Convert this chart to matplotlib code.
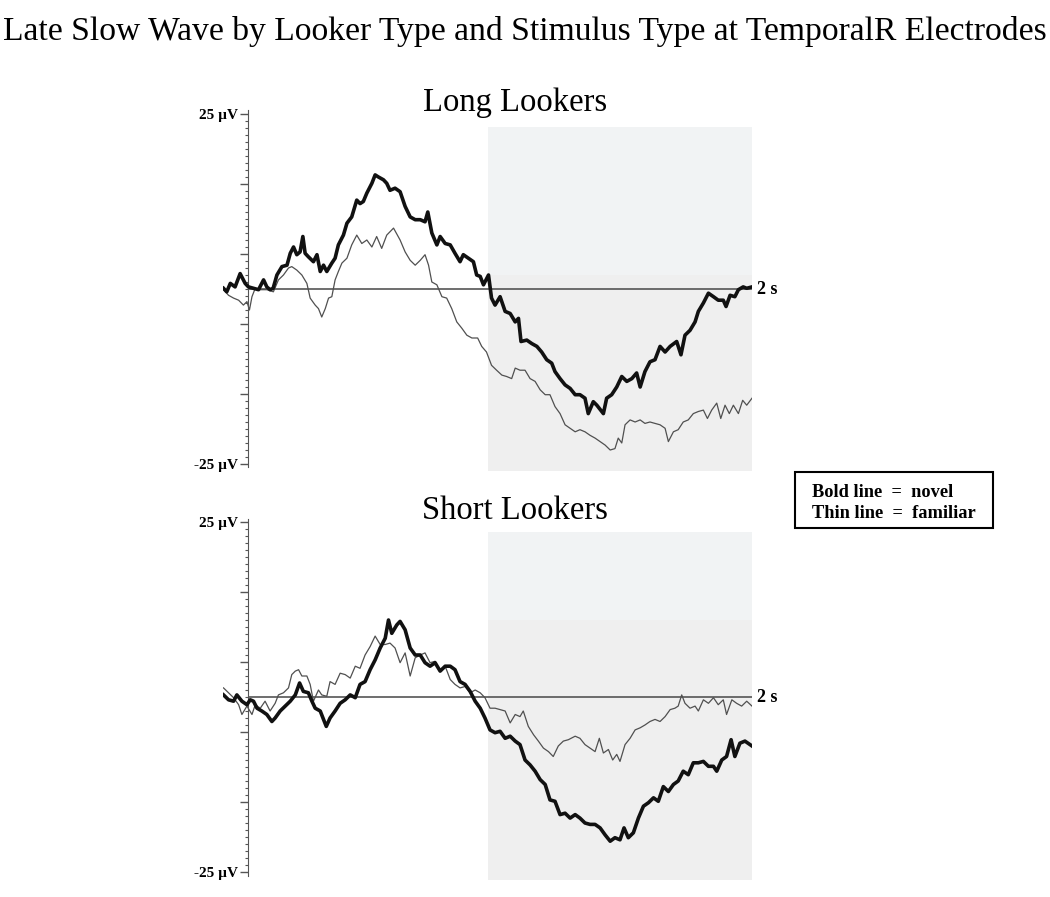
import matplotlib.pyplot as plt
from matplotlib.patches import Rectangle

plt.rcParams['font.family'] = ['Liberation Serif', 'DejaVu Serif']

# time in ms, amplitude in microvolts
long_novel_t = [-98, -85, -71, -52, -32, -12, 1, 21, 41, 61, 74, 87, 99, 114, 134, 154, 167, 180, 193, 206,
                217, 226, 239, 259, 273, 286, 299, 312, 332, 345, 358, 378, 392, 411, 431, 444, 457, 471, 491, 504,
                517, 537, 550, 563, 583, 603, 623, 643, 663, 683, 702, 713, 729, 749, 762, 782, 802, 821, 841, 854,
                874, 894, 907, 921, 934, 954, 966, 980, 1000, 1020, 1040, 1060, 1073, 1083, 1106, 1126, 1146, 1165,
                1185, 1205, 1218, 1238, 1258, 1278, 1298, 1317, 1337, 1350, 1370, 1384, 1410, 1423, 1443, 1463,
                1483, 1503, 1523, 1542, 1556, 1575, 1595, 1615, 1635, 1655, 1675, 1701, 1718, 1734, 1754, 1774,
                1787, 1807, 1827, 1847, 1866, 1886, 1897, 1913, 1932, 1946, 1965, 1979, 2000]
long_novel_v = [0.1, -0.4, 0.8, 0.3, 2.2, 0.8, 0.3, 0.1, -0.1, 1.3, 0.3, -0.1, 0.1, 2.0, 3.2, 3.4, 5.1, 6.0, 4.9, 5.3,
                7.5, 5.1, 4.6, 3.9, 4.9, 2.5, 3.4, 2.5, 3.7, 4.4, 6.3, 7.7, 9.4, 10.3, 12.7, 12.2, 12.5, 13.7, 15.1, 16.3,
                16.0, 15.6, 15.1, 14.1, 14.4, 13.9, 11.8, 10.3, 9.9, 9.9, 9.6, 11.0, 8.0, 6.3, 7.5, 6.5, 6.3, 5.1, 3.9, 4.9,
                4.4, 3.9, 2.0, 1.8, 0.6, 2.0, -1.3, -2.3, -1.1, -3.2, -3.5, -4.7, -4.2, -7.5, -7.3, -7.8, -8.2, -9.0,
                -10.1, -10.6, -11.8, -12.8, -13.7, -14.2, -15.1, -15.1, -15.6, -17.8, -16.1, -16.6, -17.8, -15.6, -15.1, -14.0,
                -12.5, -13.2, -12.8, -12.0, -14.0, -11.8, -10.4, -10.1, -8.2, -9.0, -8.2, -7.5, -9.4, -6.6, -5.9, -4.7,
                -3.2, -2.0, -0.6, -1.1, -1.6, -1.6, -2.5, -0.9, -1.1, -0.1, 0.3, 0.1, 0.3]

long_fam_t = [-98, -78, -58, -38, -19, -5, 5, 15, 28, 48, 74, 100, 120, 140, 160, 173, 193, 213, 233, 246,
              266, 279, 292, 306, 319, 332, 345, 358, 372, 392, 411, 431, 451, 471, 491, 510, 530, 550, 577, 603,
              623, 643, 663, 683, 702, 716, 729, 749, 769, 788, 808, 828, 848, 868, 888, 911, 927, 946, 966, 986,
              1007, 1026, 1046, 1060, 1079, 1099, 1119, 1139, 1159, 1179, 1198, 1218, 1238, 1258, 1278, 1298,
              1317, 1337, 1357, 1377, 1397, 1417, 1437, 1456, 1469, 1483, 1496, 1516, 1536, 1556, 1575, 1595,
              1615, 1635, 1655, 1668, 1688, 1707, 1727, 1747, 1767, 1787, 1807, 1823, 1840, 1860, 1876, 1893,
              1910, 1926, 1946, 1963, 1979, 2000]
long_fam_v = [-0.1, -0.9, -1.3, -1.6, -2.3, -1.8, -3.0, -1.1, 0.1, -0.1, -0.1, -0.4, 1.3, 2.0, 3.0, 3.2, 2.7, 2.0, 0.8, -1.3,
              -2.3, -2.8, -4.0, -2.8, -1.3, -1.1, 1.3, 2.5, 3.7, 4.4, 6.3, 7.7, 6.5, 7.0, 6.0, 7.5, 5.8, 7.7, 8.7, 7.0,
              5.3, 4.1, 3.4, 4.1, 4.9, 3.4, 1.0, 0.6, -1.1, -1.3, -2.8, -4.7, -5.6, -6.6, -7.0, -7.0, -8.2, -9.0, -10.9, -11.6,
              -12.3, -12.5, -12.8, -11.3, -11.6, -11.6, -12.8, -13.2, -14.4, -15.1, -15.1, -16.8, -17.8, -19.4, -19.9, -20.4,
              -20.1, -20.4, -20.9, -21.3, -21.8, -22.3, -23.0, -22.8, -21.3, -22.0, -19.4, -18.7, -19.0, -18.7, -19.2, -19.0,
              -19.2, -19.4, -19.9, -21.8, -20.4, -20.1, -19.0, -18.7, -17.8, -17.5, -17.3, -18.5, -17.3, -16.3, -18.5, -16.6,
              -17.8, -16.6, -17.8, -15.9, -16.6, -15.6]

short_novel_t = [-98, -78, -58, -45, -25, -5, 8, 21, 35, 54, 74, 94, 107, 127, 147, 167, 187, 204, 219, 239,
                 253, 266, 286, 299, 310, 325, 345, 365, 385, 405, 425, 444, 464, 484, 504, 524, 544, 557, 570, 590,
                 603, 623, 643, 663, 683, 702, 722, 742, 762, 782, 802, 821, 841, 861, 881, 901, 921, 940, 960, 980,
                 1000, 1020, 1040, 1060, 1079, 1099, 1119, 1139, 1159, 1179, 1198, 1218, 1238, 1258, 1278, 1298,
                 1317, 1337, 1357, 1377, 1397, 1417, 1437, 1456, 1476, 1492, 1509, 1529, 1549, 1569, 1589, 1609,
                 1628, 1648, 1668, 1688, 1707, 1727, 1747, 1767, 1787, 1807, 1827, 1847, 1860, 1880, 1899, 1917,
                 1932, 1952, 1972, 2000]
short_novel_v = [0.3, -0.4, -0.6, 0.3, -0.6, -1.1, -0.4, -0.6, -1.6, -2.0, -2.5, -3.5, -3.0, -2.0, -1.3, -0.6, 0.3, 2.0, 0.8, 0.6,
                 -0.6, -1.6, -2.0, -3.2, -4.2, -3.0, -2.0, -0.9, -0.4, 0.3, -0.1, 1.8, 2.2, 3.9, 5.3, 7.0, 8.4, 11.0, 9.1, 10.3,
                 10.8, 9.6, 7.0, 6.0, 6.0, 4.9, 4.4, 4.9, 3.7, 4.4, 4.4, 3.9, 2.2, 1.8, 0.8, -0.6, -1.6, -3.0, -4.7, -5.1,
                 -4.9, -5.9, -5.6, -6.3, -6.8, -9.0, -9.7, -10.6, -11.8, -12.5, -14.7, -14.9, -16.8, -16.6, -17.3, -16.8,
                 -17.3, -18.0, -18.2, -18.2, -18.7, -19.7, -20.6, -20.1, -20.4, -18.7, -20.1, -19.4, -17.3, -15.6, -15.1, -14.4,
                 -14.9, -12.8, -13.5, -12.5, -12.0, -10.6, -11.1, -9.4, -9.4, -9.2, -9.9, -9.9, -10.6, -9.0, -8.5, -6.1,
                 -8.5, -6.6, -6.3, -7.0]

short_fam_t = [-98, -78, -58, -38, -25, -5, 15, 28, 48, 67, 87, 107, 120, 140, 160, 173, 187, 200, 213, 233,
               246, 259, 279, 292, 312, 325, 345, 365, 385, 405, 425, 444, 464, 484, 504, 524, 544, 563, 583, 603,
               623, 643, 663, 683, 702, 722, 742, 762, 782, 802, 821, 841, 861, 881, 901, 921, 940, 960, 980, 1000,
               1020, 1040, 1060, 1079, 1092, 1112, 1133, 1152, 1172, 1192, 1211, 1231, 1251, 1271, 1298, 1317,
               1337, 1357, 1377, 1394, 1410, 1430, 1447, 1463, 1476, 1496, 1516, 1536, 1556, 1575, 1595, 1615,
               1635, 1655, 1675, 1694, 1707, 1721, 1734, 1754, 1774, 1787, 1807, 1827, 1847, 1866, 1886, 1899,
               1920, 1939, 1959, 1979, 2000]
short_fam_v = [1.3, 0.6, -0.1, -1.1, -2.5, -1.3, -2.5, -1.1, -1.6, -0.6, -2.0, -0.9, 0.3, 0.6, 1.3, 3.2, 3.7, 3.9, 3.0, 3.0,
               1.8, -0.6, 1.0, 0.3, 0.1, 2.2, 1.8, 3.4, 3.2, 2.7, 4.4, 4.1, 6.0, 7.2, 8.7, 7.5, 7.5, 7.7, 7.0, 4.9,
               6.3, 3.0, 5.6, 6.0, 6.3, 4.9, 5.1, 3.7, 4.4, 2.5, 1.8, 1.3, 1.5, 0.6, 1.0, 0.6, -0.1, -1.6, -1.6, -1.8,
               -2.0, -3.7, -2.5, -2.8, -2.0, -4.2, -5.4, -6.3, -7.3, -7.8, -8.5, -7.0, -6.3, -6.1, -5.6, -5.9,
               -6.8, -7.3, -7.8, -5.9, -8.0, -7.5, -9.0, -8.2, -9.2, -6.8, -5.9, -4.7, -4.4, -4.0, -3.5, -3.2,
               -3.5, -2.8, -1.8, -1.6, -1.3, 0.3, -0.9, -1.6, -1.3, -2.0, -0.4, -0.9, -0.1, -1.1, -0.4, -2.5,
               -0.4, -0.9, -1.3, -0.6, -1.3]

# shaded analysis window (ms) and its bands (µV): bottom, split, top
window_ms = [950, 2000]
long_band = [-26.0, 2.0, 23.1]
short_band = [-26.1, 11.0, 23.6]

W, H = 1050, 897


def draw_panel(ax, title, novel_t, novel_v, fam_t, fam_v, band):
    ax.set_xlim(-100, 2000)
    ax.set_ylim(-27, 25.5)
    ax.fill_between(window_ms, band[0], band[1], color='#efefef', lw=0, zorder=0)
    ax.fill_between(window_ms, band[1], band[2], color='#f1f3f4', lw=0, zorder=0)
    ax.hlines(0, 0, 2000, color='#555555', lw=1.2, zorder=1)
    ax.plot(fam_t, fam_v, color='#505050', lw=0.9, zorder=2)
    ax.plot(novel_t, novel_v, color='#111111', lw=2.6, zorder=3)

    for s in ['top', 'right', 'bottom']:
        ax.spines[s].set_visible(False)
    ax.spines['left'].set_position(('data', 0))
    ax.spines['left'].set_bounds(-25.5, 25.5)
    ax.spines['left'].set_color('#555555')
    ax.set_xticks([])
    ax.set_yticks([-25, -15, -5, 5, 15, 25])
    ax.set_yticklabels(['-25 µV', '', '', '', '', '25 µV'], fontsize=11, fontweight='bold')
    ax.set_yticks(range(-25, 26), minor=True)
    ax.tick_params(axis='y', which='major', length=6, width=1, color='#555555', pad=1)
    ax.tick_params(axis='y', which='minor', length=2, width=0.8, color='#555555')
    ax.patch.set_alpha(0)

    ax.text(2020, 0, '2 s', fontsize=13, fontweight='bold', va='center', ha='left')
    ax.text(1059, 25.4, title, fontsize=23.5, ha='center', va='baseline')


fig = plt.figure(figsize=(W / 100, H / 100), dpi=100)

ax_long = fig.add_axes([223 / W, (H - 478) / H, 529 / W, 367.5 / H])
draw_panel(ax_long, 'Long Lookers', long_novel_t, long_novel_v, long_fam_t, long_fam_v, long_band)

ax_short = fig.add_axes([223 / W, (H - 886) / H, 529 / W, 367.5 / H])
draw_panel(ax_short, 'Short Lookers', short_novel_t, short_novel_v, short_fam_t, short_fam_v, short_band)

fig.text(0.5, 1 - 40 / H, 'Late Slow Wave by Looker Type and Stimulus Type at TemporalR Electrodes',
         fontsize=24.2, ha='center', va='baseline')

# legend box
fig.add_artist(Rectangle((795 / W, 1 - 528 / H), 198 / W, 56 / H, transform=fig.transFigure,
                         fill=False, lw=1.5, edgecolor='black'))
fig.text(812 / W, 1 - 497 / H, 'Bold line  =  novel', fontsize=13.2, fontweight='bold', va='baseline')
fig.text(812 / W, 1 - 518 / H, 'Thin line  =  familiar', fontsize=13.2, fontweight='bold', va='baseline')

fig.savefig('out.png', dpi=100)
